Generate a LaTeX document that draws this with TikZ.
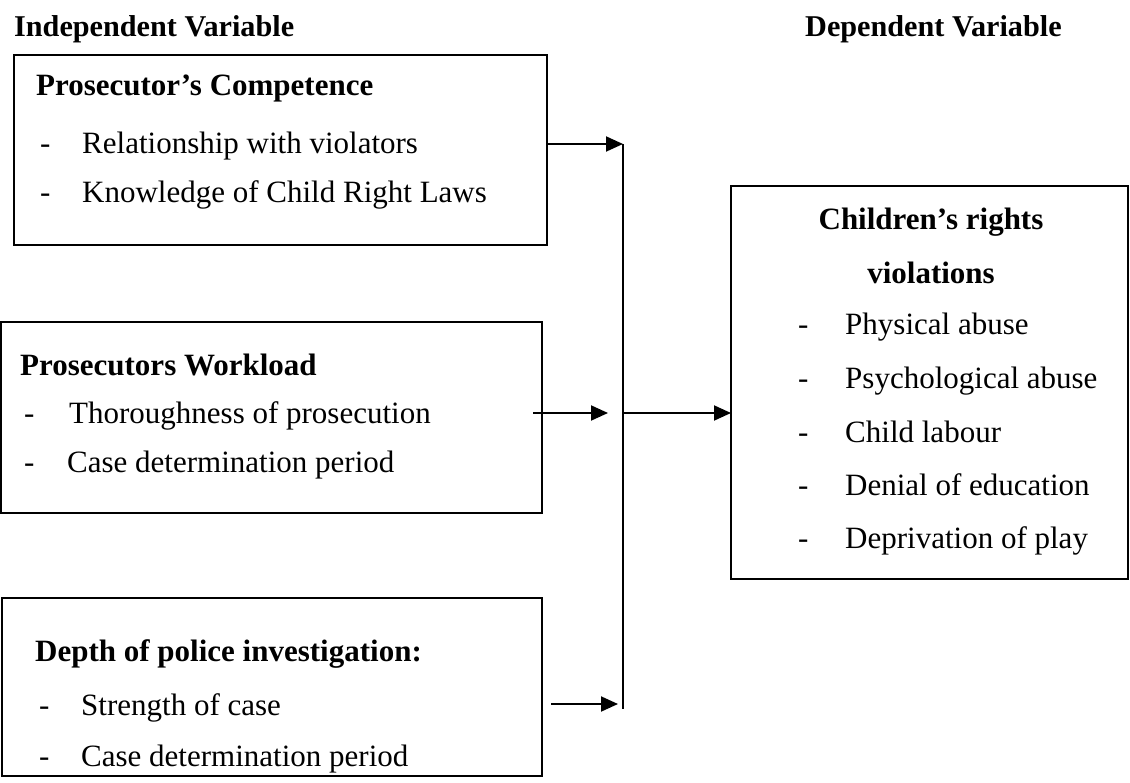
\documentclass[tikz,border=0pt]{standalone}
\usepackage{fontspec}
\setmainfont{Liberation Serif}
\usetikzlibrary{arrows.meta}
\newcommand\bodysize{\fontsize{31}{37}\selectfont}
\newcommand\topsize{\fontsize{30.2}{36}\selectfont}
\tikzset{
  frame/.style={draw, line width=1.9pt, anchor=north west, inner sep=0pt, outer sep=0pt},
  txt/.style={anchor=west, inner sep=0pt, text height=0.7em, text depth=0.22em, font=\bodysize},
  head/.style={txt, font=\bodysize\bfseries},
  toplabel/.style={txt, font=\topsize\bfseries},
  flow/.style={line width=1.9pt, -{Triangle[length=17pt, width=15pt]}}
}
\begin{document}
\begin{tikzpicture}[x=1pt, y=-1pt]
\useasboundingbox (0,0) rectangle (1130,783);
\node[toplabel] (iv) at (14,34) {Independent Variable};
\node[toplabel] (dv) at (805,34) {Dependent Variable};
\node[frame, minimum width=533pt, minimum height=190pt] (comp) at (14,55) {};
\node[frame, minimum width=541pt, minimum height=191pt] (load) at (1,322) {};
\node[frame, minimum width=540pt, minimum height=178pt] (depth) at (2,598) {};
\node[frame, minimum width=397pt, minimum height=393pt] (viol) at (731,186) {};
\node[head] (compt) at (36,93) {Prosecutor’s Competence};
\node[txt] (c1d) at (40,151) {-}; \node[txt] (c1) at (82,151) {Relationship with violators};
\node[txt] (c2d) at (40,200) {-}; \node[txt] (c2) at (82,200) {Knowledge of Child Right Laws};
\node[head] (loadt) at (20,373) {Prosecutors Workload};
\node[txt] (l1d) at (24,421) {-}; \node[txt] (l1) at (69,421) {Thoroughness of prosecution};
\node[txt] (l2d) at (24,470) {-}; \node[txt] (l2) at (67,470) {Case determination period};
\node[head] (deptht) at (35,659) {Depth of police investigation:};
\node[txt] (d1d) at (39,713) {-}; \node[txt] (d1) at (81,713) {Strength of case};
\node[txt] (d2d) at (39,764) {-}; \node[txt] (d2) at (81,764) {Case determination period};
\node[head, anchor=center] (violt1) at (931,227) {Children’s rights};
\node[head, anchor=center] (violt2) at (931,281) {violations};
\node[txt] (v1d) at (798,332) {-}; \node[txt] (v1) at (845,332) {Physical abuse};
\node[txt] (v2d) at (798,386) {-}; \node[txt] (v2) at (845,386) {Psychological abuse};
\node[txt] (v3d) at (798,440) {-}; \node[txt] (v3) at (845,440) {Child labour};
\node[txt] (v4d) at (798,493) {-}; \node[txt] (v4) at (845,493) {Denial of education};
\node[txt] (v5d) at (798,546) {-}; \node[txt] (v5) at (845,546) {Deprivation of play};
\coordinate (jtop) at (623,144);
\coordinate (jmid) at (623,413);
\coordinate (jbot) at (623,709);
\coordinate (lout) at (533,413);
\coordinate (dout) at (551,704);
\draw[flow] (comp.east |- jtop) -- (jtop);
\draw[line width=1.9pt] (jtop) -- (jbot);
\draw[flow, shorten >=15pt] (lout) -- (jmid);
\draw[flow] (jmid) -- (viol.west |- jmid);
\draw[flow, shorten >=5pt] (dout) -- (dout -| jbot);
\end{tikzpicture}
\end{document}
